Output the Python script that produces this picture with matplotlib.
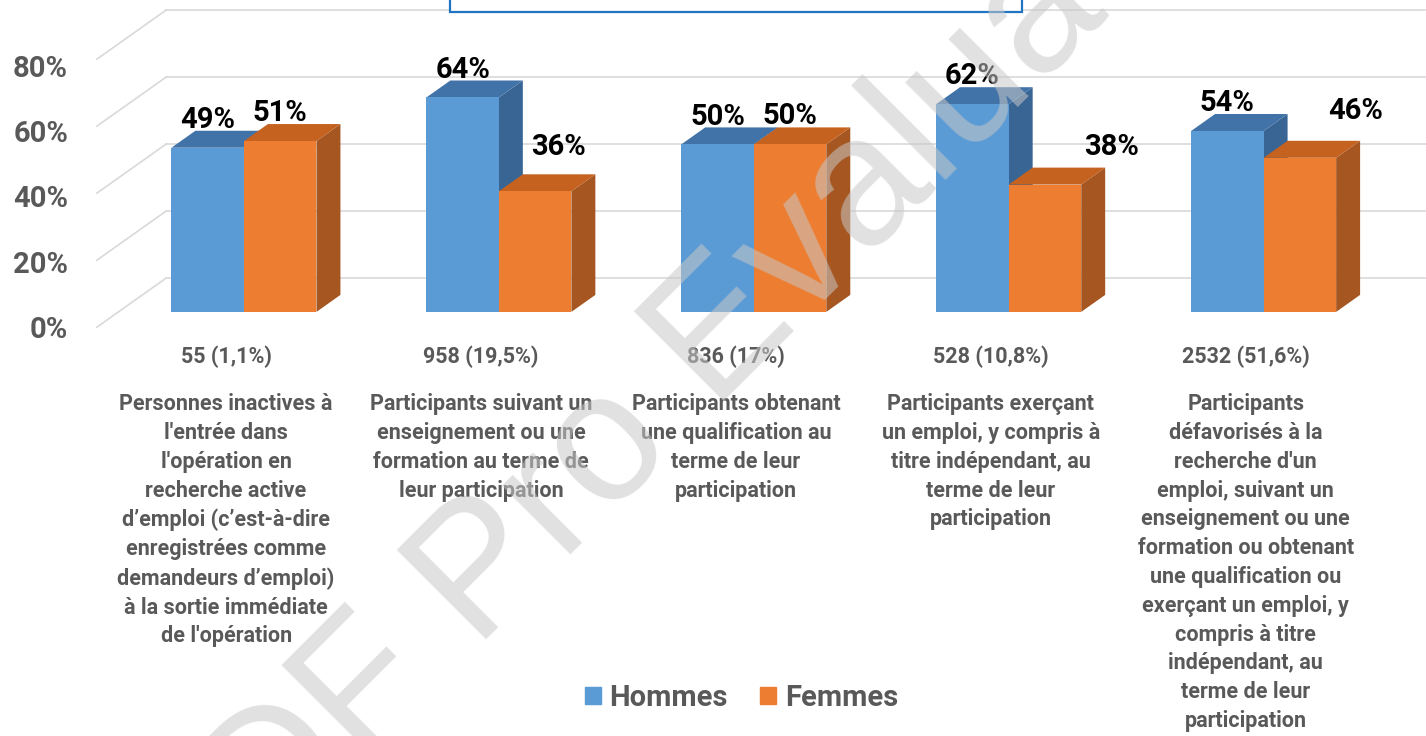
import matplotlib
matplotlib.use("Agg")
import matplotlib.pyplot as plt
from matplotlib.patches import Patch, Rectangle

plt.rcParams['font.family'] = ['Roboto', 'DejaVu Sans']

# data
categories = [
    "Personnes inactives à\nl'entrée dans\nl'opération en\nrecherche active\nd’emploi (c’est-à-dire\nenregistrées comme\ndemandeurs d’emploi)\nà la sortie immédiate\nde l'opération",
    "Participants suivant un\nenseignement ou une\nformation au terme de\nleur participation",
    "Participants obtenant\nune qualification au\nterme de leur\nparticipation",
    "Participants exerçant\nun emploi, y compris à\ntitre indépendant, au\nterme de leur\nparticipation",
    "Participants\ndéfavorisés à la\nrecherche d'un\nemploi, suivant un\nenseignement ou une\nformation ou obtenant\nune qualification ou\nexerçant un emploi, y\ncompris à titre\nindépendant, au\nterme de leur\nparticipation",
]
counts = ["55 (1,1%)", "958 (19,5%)", "836 (17%)", "528 (10,8%)", "2532 (51,6%)"]
hommes = [49, 64, 50, 62, 54]
femmes = [51, 36, 50, 38, 46]
y_ticks = [0, 20, 40, 60, 80]

# label nudges (pixels) for the Femmes values, as placed in the original
femmes_shift = [(0, 28), (23, 44), (0, 28), (67, 38), (56, 47)]

GREY = '#595959'
BLUE, BLUE_TOP, BLUE_SIDE = '#5B9BD5', '#4273A8', '#386594'
ORANGE, ORANGE_TOP, ORANGE_SIDE = '#ED7D31', '#C5621F', '#A65620'

fig = plt.figure(figsize=(14.26, 7.36), dpi=100)
ax = fig.add_axes([0, 0, 1, 1])
ax.set_xlim(-0.957, 4.637)
ax.set_ylim(-126.6, 93.1)
ax.axis('off')

w = 0.2845          # width of one bar
ddx, ddy = 0.094, 5.07   # one step of depth
x_left = -0.577     # front-left corner of the floor
floor_front, wall = -0.9, 2.0

# back wall grid + floor diagonals
for t in y_ticks:
    y0 = t + floor_front * ddy
    y1 = t + wall * ddy
    xw = x_left + (wall - floor_front) * ddx
    ax.plot([x_left, xw], [y0, y1], color='#d9d9d9', lw=1.2, zorder=1)
    ax.plot([xw, 4.7], [y1, y1], color='#d9d9d9', lw=1.2, zorder=1)
    ax.text(-0.69, t * 0.975 + floor_front * ddy - 0.8, f"{t}%", ha='right',
            va='center', fontsize=21, fontweight='bold', color=GREY)


def bar3d(x0, h, front, top, side, z):
    ax.fill([x0 + w, x0 + w + ddx, x0 + w + ddx, x0 + w],
            [0, ddy, h + ddy, h], color=side, lw=0, zorder=z)
    ax.fill([x0, x0 + w, x0 + w + ddx, x0 + ddx],
            [h, h, h + ddy, h + ddy], color=top, lw=0, zorder=z)
    ax.bar(x0, h, width=w, align='edge', color=front, lw=0, zorder=z + 0.5)


for i in range(len(categories)):
    bar3d(i - w, hommes[i], BLUE, BLUE_TOP, BLUE_SIDE, 2)
    bar3d(i, femmes[i], ORANGE, ORANGE_TOP, ORANGE_SIDE, 3)

    ax.annotate(f"{hommes[i]}%", (i - w / 2, hommes[i]), xytext=(0, 20),
                textcoords='offset points', ha='center', va='center',
                fontsize=21, fontweight='bold', color='black', zorder=5)
    sx, sy = femmes_shift[i]
    ax.annotate(f"{femmes[i]}%", (i + w / 2, femmes[i]),
                xytext=(sx * 0.72, sy * 0.72), textcoords='offset points',
                ha='center', va='center', fontsize=21, fontweight='bold',
                color='black', zorder=5)

    ax.text(i - 0.07, -13.4, counts[i], ha='center', va='center',
            fontsize=15.5, fontweight='bold', color=GREY)
    ax.text(i - 0.07, -24.3, categories[i], ha='center', va='top',
            fontsize=15.5, fontweight='bold', color=GREY, linespacing=1.40)

# legend
handles = [Patch(color=BLUE, label='Hommes'), Patch(color=ORANGE, label='Femmes')]
fig.legend(handles=handles, loc='center', bbox_to_anchor=(0.52, 0.052), ncol=2,
           frameon=False, handlelength=0.55, handleheight=0.55, handletextpad=0.3,
           columnspacing=1.1, prop={'size': 21, 'weight': 'bold'},
           labelcolor=GREY)

# title frame (its text is cut off at the top of the picture)
fig.patches.append(Rectangle((0.3156, 0.9837), 0.4011, 0.1, transform=fig.transFigure,
                             fc='white', ec='#1F74C4', lw=1.6, zorder=4))

# watermark
fig.text(0.526, 0.49, "PDF Pro Evaluation", rotation=45, rotation_mode='anchor',
         ha='center', va='baseline', fontsize=132, color='#c8c8c8', alpha=0.55,
         family='Liberation Sans', zorder=10)

fig.savefig('out.png', dpi=100)
